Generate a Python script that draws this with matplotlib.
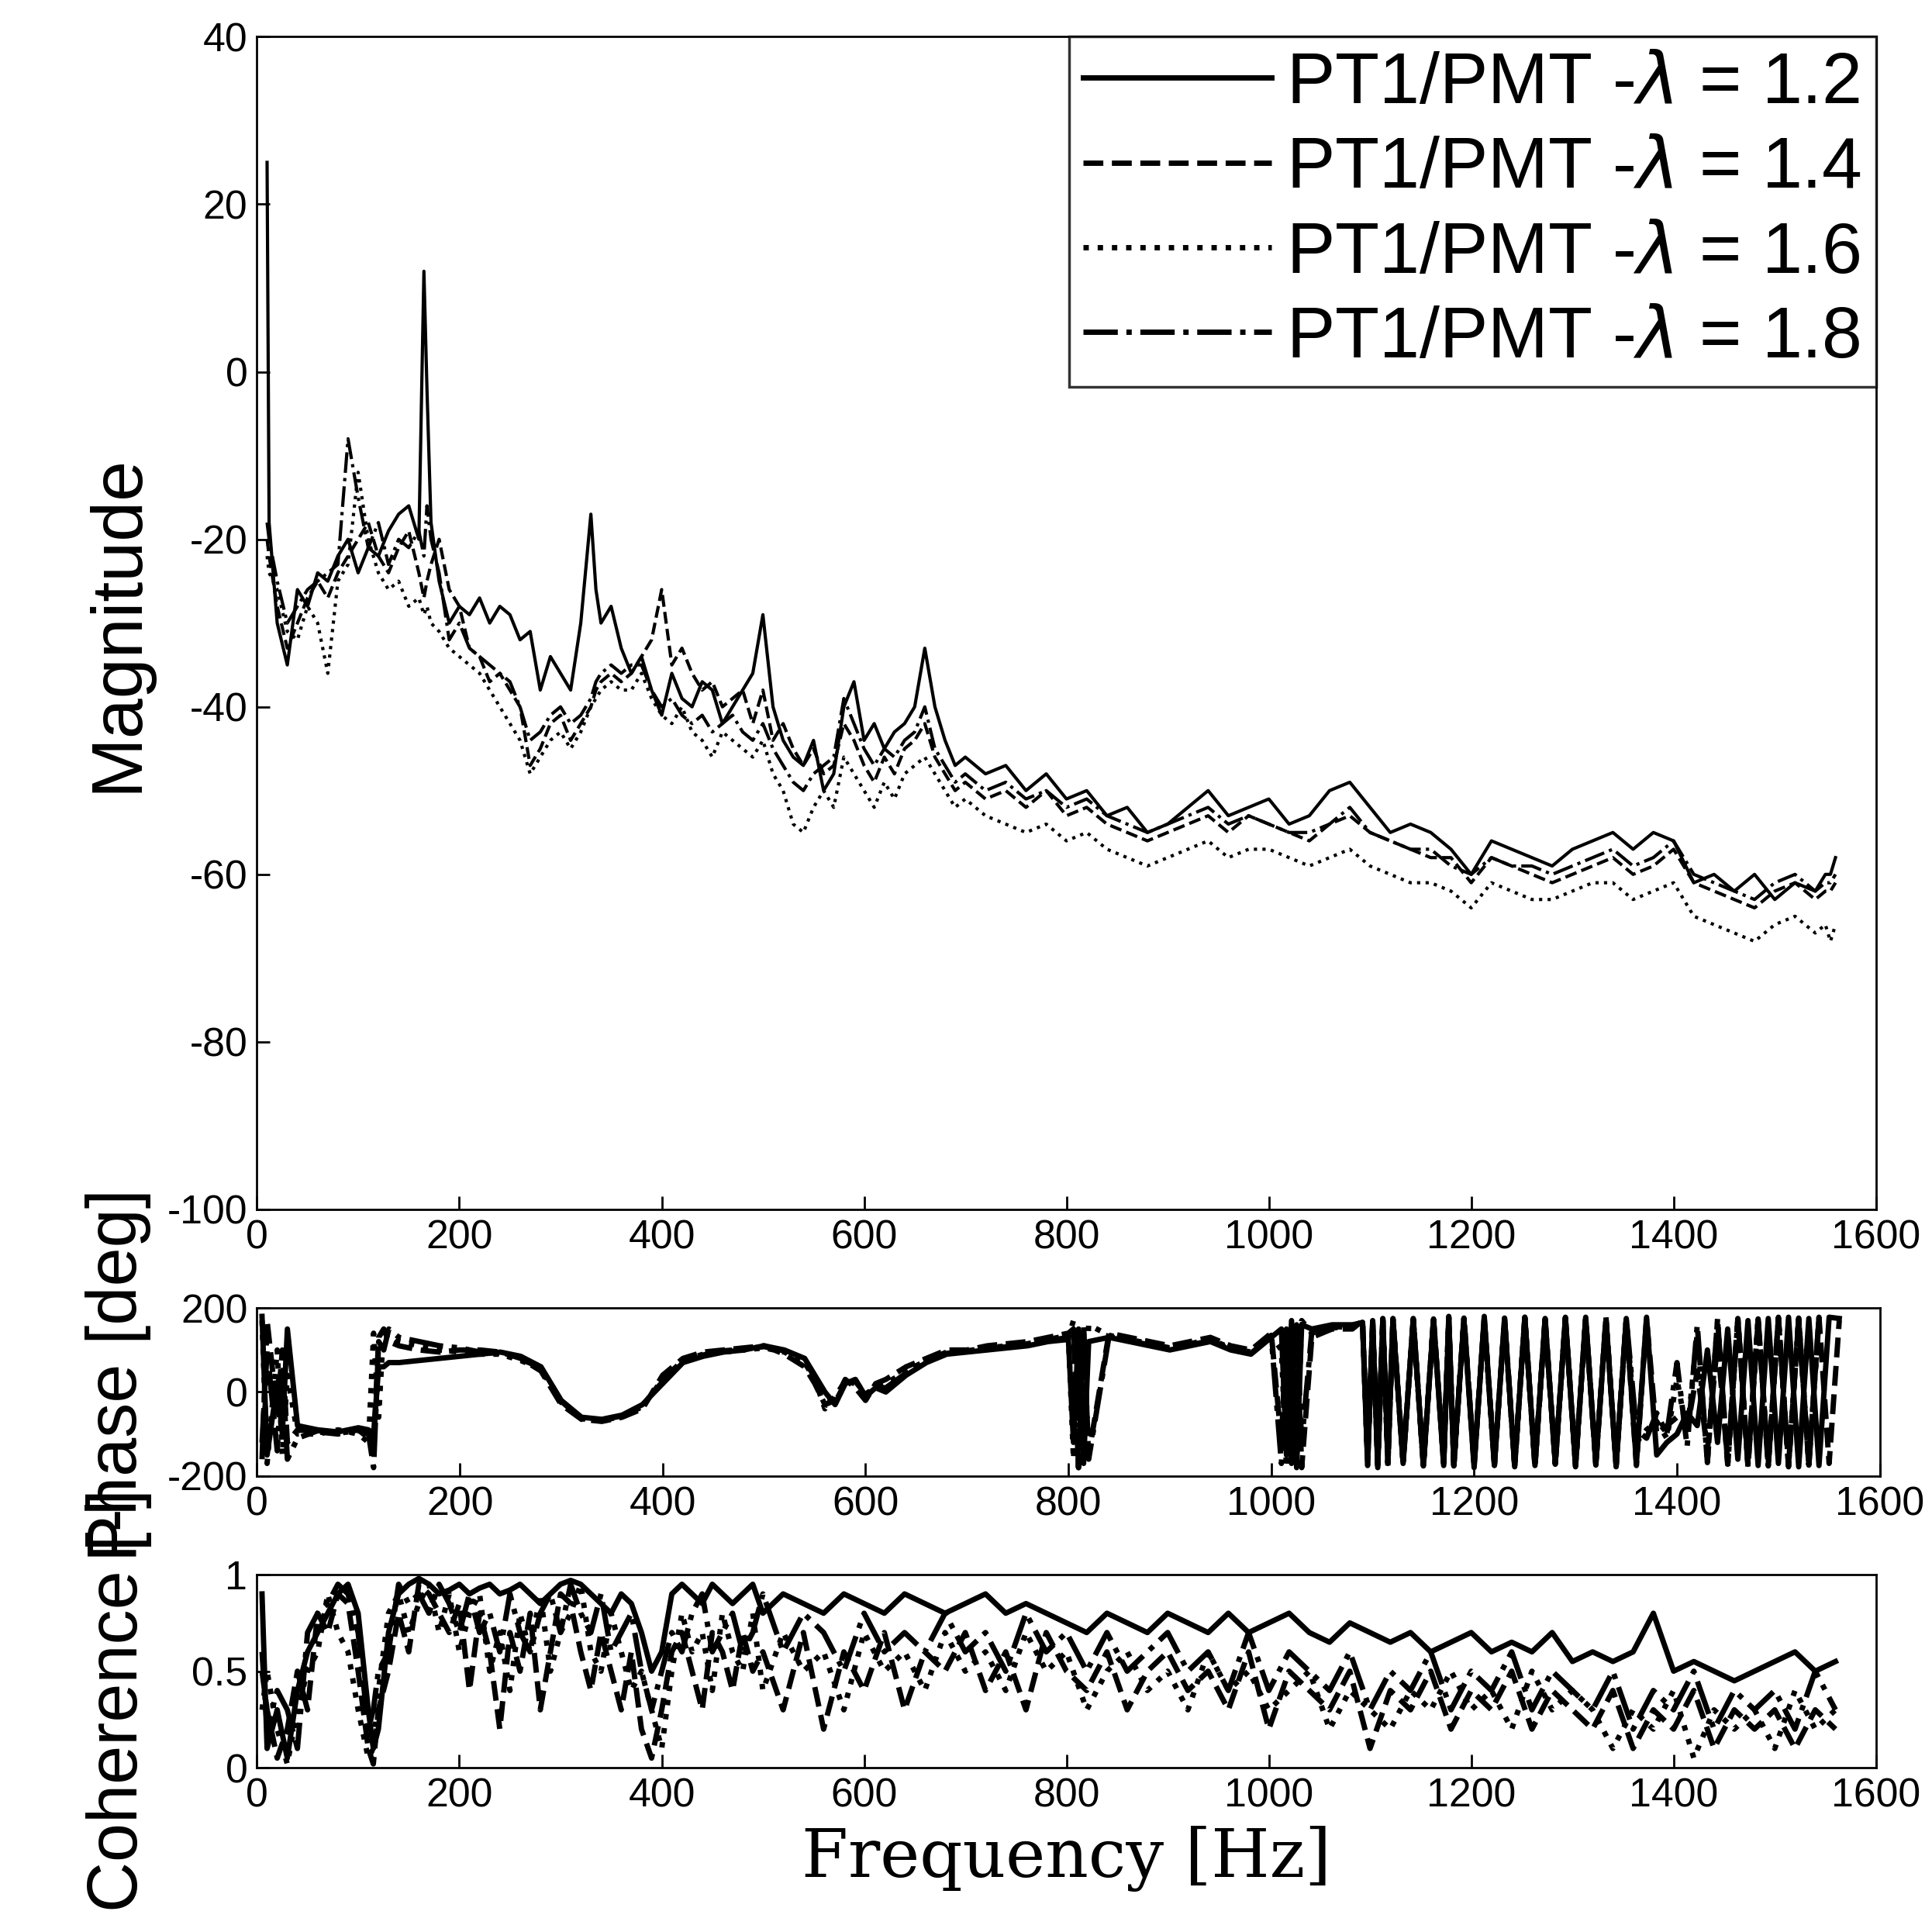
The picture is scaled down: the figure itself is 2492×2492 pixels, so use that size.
import matplotlib
matplotlib.use("Agg")
import matplotlib.pyplot as plt

labels = ["PT1/PMT -$\\lambda$ = 1.2", "PT1/PMT -$\\lambda$ = 1.4",
          "PT1/PMT -$\\lambda$ = 1.6", "PT1/PMT -$\\lambda$ = 1.8"]
styles = ["-", "--", ":", "-."]

f_mag = [10, 12, 20, 30, 40, 50, 60, 70, 80, 90, 100, 110, 120, 130, 140, 150, 160, 165, 168, 172, 180, 190,
         200, 210, 220, 230, 240, 250, 260, 270, 280, 290, 300, 310, 320, 330, 335, 340, 350, 360, 370, 380,
         390, 400, 410, 420, 430, 440, 450, 460, 470, 480, 490, 500, 510, 520, 530, 540, 550, 560, 570, 580,
         590, 600, 610, 620, 630, 640, 650, 660, 670, 680, 690, 700, 720, 740, 760, 780, 800, 820, 840, 860,
         880, 900, 920, 940, 960, 980, 1000, 1020, 1040, 1060, 1080, 1100, 1120, 1140, 1160, 1180, 1200,
         1220, 1240, 1260, 1280, 1300, 1320, 1340, 1360, 1380, 1400, 1420, 1440, 1460, 1480, 1500, 1520,
         1540, 1550, 1555, 1560]
mag_12 = [25, -18, -30, -35, -26, -28, -24, -25, -22, -20, -24, -21, -22, -19, -17, -16, -20, 12, -2, -18,
          -25, -30, -28, -29, -27, -30, -28, -29, -32, -31, -38, -34, -36, -38, -30, -17, -26, -30, -28,
          -33, -36, -34, -38, -41, -36, -39, -40, -37, -38, -42, -40, -38, -36, -29, -40, -44, -46, -47,
          -44, -50, -48, -40, -37, -44, -42, -45, -43, -42, -40, -33, -40, -44, -47, -46, -48, -47, -50,
          -48, -51, -50, -53, -52, -55, -54, -52, -50, -53, -52, -51, -54, -53, -50, -49, -52, -55, -54,
          -55, -57, -60, -56, -57, -58, -59, -57, -56, -55, -57, -55, -56, -61, -60, -62, -60, -63, -61,
          -62, -60, -60, -58]
mag_14 = [-20, -22, -28, -33, -30, -27, -25, -27, -24, -22, -20, -18, -22, -24, -21, -19, -24, -27, -25, -23,
          -20, -26, -28, -33, -34, -37, -36, -38, -40, -47, -45, -42, -41, -44, -42, -40, -38, -37, -36,
          -37, -36, -34, -32, -26, -35, -33, -36, -38, -37, -40, -39, -38, -42, -38, -44, -42, -45, -47,
          -45, -48, -47, -42, -44, -47, -49, -46, -48, -45, -44, -42, -46, -48, -50, -49, -51, -50, -52,
          -50, -53, -52, -54, -55, -56, -55, -54, -53, -55, -53, -54, -55, -56, -54, -53, -55, -56, -57,
          -58, -58, -61, -58, -59, -60, -61, -60, -59, -58, -60, -59, -57, -61, -62, -63, -64, -62, -61,
          -63, -62, -62, -61]
mag_16 = [-22, -24, -26, -31, -32, -28, -30, -36, -25, -23, -12, -20, -24, -26, -25, -28, -27, -29, -28, -30,
          -31, -33, -34, -35, -36, -38, -40, -42, -44, -48, -46, -44, -43, -45, -43, -40, -39, -38, -37,
          -38, -38, -36, -39, -41, -42, -40, -43, -44, -46, -43, -44, -45, -46, -44, -48, -50, -54, -55,
          -52, -50, -52, -46, -48, -50, -52, -49, -51, -48, -47, -46, -48, -50, -52, -51, -53, -54, -55,
          -54, -56, -55, -57, -58, -59, -58, -57, -56, -58, -57, -57, -58, -59, -58, -57, -59, -60, -61,
          -61, -62, -64, -61, -62, -63, -63, -62, -61, -61, -63, -62, -61, -65, -66, -67, -68, -66, -65,
          -67, -66, -68, -66]
mag_18 = [-18, -20, -25, -30, -28, -26, -25, -24, -23, -8, -15, -21, -18, -23, -20, -21, -19, -22, -16, -20,
          -24, -32, -30, -33, -34, -35, -36, -37, -40, -44, -43, -41, -40, -42, -41, -39, -37, -36, -35,
          -36, -35, -35, -38, -40, -39, -41, -42, -41, -43, -42, -41, -43, -44, -42, -45, -47, -49, -50,
          -48, -47, -46, -39, -42, -45, -47, -45, -46, -44, -43, -40, -45, -47, -49, -48, -50, -49, -51,
          -50, -52, -51, -53, -54, -55, -54, -53, -52, -54, -53, -54, -55, -55, -54, -52, -55, -56, -57,
          -57, -59, -60, -58, -59, -59, -60, -59, -58, -57, -59, -58, -56, -60, -61, -62, -63, -61, -60,
          -62, -61, -61, -60]

f_ph = [5, 10, 20, 25, 30, 40, 60, 80, 100, 110, 115, 120, 125, 130, 140, 160, 180, 200, 220, 240, 260, 280,
        290, 300, 320, 340, 360, 380, 400, 420, 440, 460, 480, 500, 520, 540, 550, 560, 570, 580, 590, 600,
        610, 620, 640, 660, 680, 700, 720, 740, 760, 780, 800, 805, 810, 815, 820, 840, 860, 880, 900, 920,
        940, 960, 980, 1000, 1010, 1015, 1020, 1025, 1030, 1040, 1060, 1080, 1090, 1095, 1100, 1105, 1110,
        1115, 1120, 1130, 1140, 1150, 1160, 1170, 1175, 1180, 1190, 1200, 1210, 1220, 1230, 1240, 1250, 1260,
        1270, 1280, 1290, 1300, 1310, 1320, 1330, 1340, 1350, 1360, 1370, 1380, 1390, 1400, 1410, 1420,
        1430, 1440, 1450, 1460, 1470, 1480, 1490, 1500, 1510, 1520, 1530, 1540, 1550, 1560]
ph_12 = [180, -150, 20, -100, 150, -80, -90, -95, -85, -90, -100, 60, 60, 70, 70, 75, 80, 85, 90, 95, 85, 60,
         20, -20, -60, -65, -55, -30, 20, 70, 85, 95, 100, 110, 100, 80, 40, 0, -30, 20, 30, -10, 10, 0, 40, 70,
         90, 95, 100, 105, 110, 120, 125, -120, 150, -170, 120, 130, 120, 110, 100, 110, 120, 100, 90, 130, 150,
         -150, 170, -180, 160, 150, 160, 160, 165, -170, 170, -180, 175, -160, 170, -170, 175, -175, 170, -175,
         175, -170, 170, -180, 180, -175, 175, -178, 178, -175, 175, -170, 175, -175, 178, -170, 170, -175, 175,
         -170, 178, -150, -120, -100, -50, -80, 100, -120, 150, -160, 170, -175, 175, -170, 178, -178, 175,
         -175, 178, 175]
ph_14 = [-160, 170, -50, 100, -120, -90, -95, -100, -90, -110, -130, 130, 150, 120, 110, 100, 95, 100, 100,
         95, 80, 50, 10, -30, -65, -70, -60, -40, 40, 80, 95, 100, 105, 110, 90, 60, 20, -30, -20, 30, 10, -20,
         20, 30, 60, 80, 100, 100, 110, 115, 120, 130, 140, 150, -180, 140, -150, 140, 130, 120, 110, 120, 130,
         110, 100, 140, -120, 150, -170, 160, -180, 130, 150, 150, 170, -160, 160, -175, 170, -170, 175, -165,
         170, -178, 175, -170, 180, -175, 178, -175, 175, -170, 170, -175, 178, -178, 170, -170, 178, -178, 175,
         -170, 178, -178, 170, -175, 175, -100, -80, -60, -90, 50, -140, 120, -170, 175, -178, 170, -175, 178,
         -178, 175, -175, 178, -170, 170]
ph_16 = [170, -170, 100, -150, 40, -100, -100, -90, -100, -120, 140, -60, 160, 140, 120, 110, 100, 95, 90,
         90, 75, 55, 15, -25, -62, -68, -58, -35, 30, 75, 90, 95, 100, 105, 95, 70, 30, -40, -10, 25, 20, -15,
         15, 20, 50, 75, 95, 98, 105, 110, 115, 125, 135, -160, 120, -120, 160, 135, 125, 115, 105, 115, 125,
         105, 95, 135, 100, -180, 120, -150, 170, 140, 155, 155, 168, -175, 165, -170, 172, -175, 172, -172,
         172, -176, 172, -172, 178, -178, 176, -172, 172, -176, 172, -178, 176, -176, 172, -172, 176, -176,
         172, -172, 176, -176, 172, -120, -90, -70, -110, 30, -100, 140, -165, 172, -176, 172, -172, 176, -176,
         172, -172, 176, -172, 172]
ph_18 = [-120, 100, -140, 60, -160, -110, -92, -98, -92, -100, -180, 120, 100, 150, 130, 120, 110, 105, 95,
         92, 78, 58, 18, -22, -64, -66, -57, -32, 25, 72, 88, 98, 102, 108, 98, 75, 35, -20, -25, 22, 25,
         -5, 12, 10, 45, 72, 92, 97, 102, 108, 112, 122, 130, 170, -180, 160, -160, 132, 122, 112, 102, 112,
         122, 102, 92, 132, -170, 130, -160, 150, -120, 145, 152, 158, 166, -165, 168, -172, 174, -168, 174,
         -168, 174, -172, 174, -168, 176, -176, 174, -168, 174, -174, 176, -172, 174, -172, 174, -174, 176,
         -172, 174, -174, 174, -172, 176, -90, -110, -50, -100, 70, -130, 160, -168, 174, -172, 176, -172,
         174, -174, 176, -174, 174, -174, 176]

f_coh = [5, 10, 20, 30, 40, 50, 60, 70, 80, 90, 100, 110, 115, 120, 130, 140, 150, 160, 170, 180, 190, 200,
         210, 220, 230, 240, 250, 260, 270, 280, 290, 300, 310, 320, 330, 340, 350, 360, 370, 380, 390, 400,
         410, 420, 430, 440, 450, 460, 470, 480, 490, 500, 520, 540, 560, 580, 600, 620, 640, 660, 680, 700,
         720, 740, 760, 780, 800, 820, 840, 860, 880, 900, 920, 940, 960, 980, 1000, 1020, 1040, 1060, 1080,
         1100, 1120, 1140, 1160, 1180, 1200, 1220, 1240, 1260, 1280, 1300, 1320, 1340, 1360, 1380, 1400, 1420,
         1440, 1460, 1480, 1500, 1520, 1540, 1560]
coh_12 = [0.9, 0.1, 0.3, 0.05, 0.4, 0.6, 0.7, 0.8, 0.9, 0.95, 0.8, 0.3, 0.1, 0.2, 0.7, 0.9, 0.95, 0.98, 0.95,
          0.9, 0.92, 0.95, 0.9, 0.93, 0.95, 0.9, 0.92, 0.95, 0.9, 0.85, 0.9, 0.95, 0.97, 0.95, 0.9, 0.85, 0.8,
          0.9, 0.85, 0.7, 0.5, 0.6, 0.9, 0.95, 0.9, 0.85, 0.95, 0.9, 0.85, 0.9, 0.95, 0.8, 0.9, 0.85, 0.8,
          0.9, 0.85, 0.8, 0.9, 0.85, 0.8, 0.85, 0.9, 0.8, 0.85, 0.8, 0.75, 0.7, 0.8, 0.75, 0.7, 0.8, 0.75,
          0.7, 0.8, 0.7, 0.75, 0.8, 0.7, 0.65, 0.75, 0.7, 0.65, 0.7, 0.6, 0.65, 0.7, 0.6, 0.65, 0.6, 0.7,
          0.55, 0.6, 0.55, 0.6, 0.8, 0.5, 0.55, 0.5, 0.45, 0.5, 0.55, 0.6, 0.5, 0.55]
coh_14 = [0.5, 0.3, 0.05, 0.2, 0.5, 0.3, 0.8, 0.7, 0.9, 0.85, 0.5, 0.1, 0.02, 0.3, 0.5, 0.8, 0.6, 0.95,
          0.9, 0.8, 0.7, 0.85, 0.4, 0.8, 0.6, 0.2, 0.7, 0.5, 0.8, 0.3, 0.6, 0.9, 0.85, 0.6, 0.4, 0.7, 0.5,
          0.3, 0.6, 0.2, 0.05, 0.3, 0.6, 0.7, 0.5, 0.3, 0.7, 0.6, 0.4, 0.7, 0.5, 0.6, 0.3, 0.7, 0.2, 0.6,
          0.4, 0.7, 0.3, 0.6, 0.5, 0.7, 0.4, 0.6, 0.3, 0.7, 0.5, 0.4, 0.6, 0.3, 0.5, 0.6, 0.4, 0.5, 0.3, 0.6,
          0.2, 0.5, 0.4, 0.3, 0.5, 0.1, 0.4, 0.3, 0.5, 0.2, 0.4, 0.3, 0.5, 0.2, 0.4, 0.3, 0.2, 0.4, 0.1,
          0.3, 0.2, 0.4, 0.1, 0.3, 0.2, 0.3, 0.1, 0.3, 0.2]
coh_16 = [0.3, 0.5, 0.2, 0.02, 0.3, 0.5, 0.6, 0.9, 0.7, 0.6, 0.3, 0.05, 0.1, 0.4, 0.8, 0.9, 0.7, 0.85,
          0.95, 0.7, 0.9, 0.6, 0.8, 0.9, 0.5, 0.7, 0.4, 0.8, 0.6, 0.9, 0.5, 0.7, 0.8, 0.95, 0.6, 0.5, 0.8,
          0.6, 0.4, 0.5, 0.3, 0.1, 0.5, 0.8, 0.6, 0.7, 0.4, 0.8, 0.6, 0.5, 0.8, 0.4, 0.7, 0.5, 0.6, 0.3, 0.7,
          0.5, 0.6, 0.4, 0.7, 0.5, 0.6, 0.4, 0.7, 0.5, 0.6, 0.3, 0.5, 0.6, 0.4, 0.5, 0.3, 0.6, 0.4, 0.5, 0.3,
          0.4, 0.5, 0.2, 0.4, 0.3, 0.2, 0.4, 0.3, 0.5, 0.3, 0.4, 0.2, 0.5, 0.3, 0.4, 0.3, 0.1, 0.3, 0.2, 0.4,
          0.05, 0.3, 0.2, 0.3, 0.1, 0.4, 0.2, 0.3]
coh_18 = [0.6, 0.2, 0.4, 0.3, 0.1, 0.7, 0.8, 0.85, 0.95, 0.9, 0.7, 0.2, 0.3, 0.5, 0.6, 0.95, 0.85, 0.9, 0.8,
          0.95, 0.85, 0.7, 0.9, 0.7, 0.8, 0.6, 0.9, 0.7, 0.6, 0.8, 0.9, 0.7, 0.95, 0.8, 0.7, 0.9, 0.6, 0.7,
          0.8, 0.5, 0.3, 0.5, 0.7, 0.6, 0.8, 0.9, 0.6, 0.7, 0.8, 0.6, 0.7, 0.9, 0.6, 0.8, 0.7, 0.5, 0.8, 0.6,
          0.7, 0.6, 0.8, 0.6, 0.7, 0.5, 0.8, 0.6, 0.7, 0.5, 0.7, 0.5, 0.6, 0.7, 0.5, 0.6, 0.4, 0.7, 0.4, 0.6,
          0.5, 0.4, 0.6, 0.3, 0.5, 0.4, 0.6, 0.3, 0.5, 0.4, 0.6, 0.3, 0.5, 0.4, 0.3, 0.5, 0.2, 0.4, 0.3, 0.5,
          0.2, 0.4, 0.3, 0.4, 0.2, 0.5, 0.3]


def paired(x, y):
    n = min(len(x), len(y))
    return x[:n], y[:n]


plt.rcParams["font.family"] = "Liberation Sans"
plt.rcParams["axes.unicode_minus"] = False
fig = plt.figure(figsize=(10, 10), dpi=249.2)

ax1 = fig.add_axes([0.133, 0.374, 0.838, 0.607])
ax2 = fig.add_axes([0.133, 0.236, 0.840, 0.087])
ax3 = fig.add_axes([0.133, 0.085, 0.838, 0.100])

mags = [mag_12, mag_14, mag_16, mag_18]
phs = [ph_12, ph_14, ph_16, ph_18]
cohs = [coh_12, coh_14, coh_16, coh_18]
for i in range(4):
    ax1.plot(*paired(f_mag, mags[i]), color="black", ls=styles[i], lw=1.2, label=labels[i])
    ax2.plot(*paired(f_ph, phs[i]), color="black", ls=styles[i], lw=2.0)
    ax3.plot(*paired(f_coh, cohs[i]), color="black", ls=styles[i], lw=2.0)

ax1.set_xlim(0, 1600); ax1.set_ylim(-100, 40)
ax1.set_yticks(range(-100, 41, 20))
ax1.set_ylabel("Magnitude", fontsize=27)
leg = ax1.legend(loc="upper right", fontsize=27, frameon=True, fancybox=False,
                 edgecolor="black", handlelength=2.6, borderpad=0.2, labelspacing=0.25,
                 handletextpad=0.2, borderaxespad=0.0)
leg.get_frame().set_linewidth(1.0)
for l in leg.get_lines():
    l.set_linewidth(2.0)
ax2.set_xlim(0, 1600); ax2.set_ylim(-200, 200); ax2.set_yticks([-200, 0, 200])
ax2.set_ylabel("Phase [deg]", fontsize=26)
ax3.set_xlim(0, 1600); ax3.set_ylim(0, 1); ax3.set_yticks([0, 0.5, 1])
ax3.set_yticklabels(["0", "0.5", "1"])
ax3.set_ylabel("Coherence [-]", fontsize=26)
ax3.set_xlabel("Frequency [Hz]", fontsize=25, family="DejaVu Serif")

for ax in (ax1, ax2, ax3):
    ax.set_xticks(range(0, 1601, 200))
    ax.tick_params(direction="in", labelsize=15, length=5)
ax1.yaxis.set_label_coords(-0.065, 0.5)
ax2.yaxis.set_label_coords(-0.065, 0.6)
ax3.yaxis.set_label_coords(-0.065, 0.35)

fig.savefig("out.png", dpi=249.2)
